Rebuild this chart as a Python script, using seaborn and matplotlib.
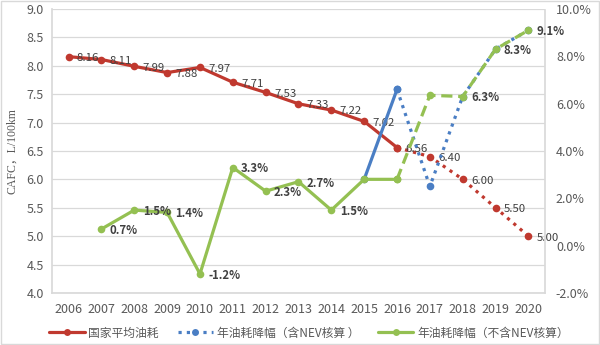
import matplotlib
matplotlib.use("Agg")
import matplotlib.pyplot as plt
import seaborn as sns
import pandas as pd
import numpy as np
from matplotlib.lines import Line2D
from matplotlib.patches import Rectangle
from matplotlib.ticker import FormatStrFormatter, FixedLocator

years = [2006, 2007, 2008, 2009, 2010, 2011, 2012, 2013, 2014, 2015, 2016, 2017, 2018, 2019, 2020]
cafc = [8.16, 8.11, 7.99, 7.88, 7.97, 7.71, 7.53, 7.33, 7.22, 7.02, 6.56, 6.40, 6.00, 5.50, 5.00]
cafc_labels = ["8.16", "8.11", "7.99", "7.88", "7.97", "7.71", "7.53", "7.33", "7.22", "7.02",
               "6.56", "6.40", "6.00", "5.50", "5.00"]
drop_no_nev = [np.nan, 0.7, 1.5, 1.4, -1.2, 3.3, 2.3, 2.7, 1.5, 2.8, 2.8, 6.35, 6.3, 8.3, 9.1]
drop_no_nev_labels = ["", "0.7%", "1.5%", "1.4%", "-1.2%", "3.3%", "2.3%", "2.7%", "1.5%", "", "", "",
                      "6.3%", "8.3%", "9.1%"]
drop_nev = [np.nan] * 9 + [2.8, 6.6, 2.5, 6.3, 8.3, 9.1]

series_names = ["国家平均油耗", "年油耗降幅（含NEV核算 ）", "年油耗降幅（不含NEV核算）"]
ylabel = "CAFC，L/100km"

RED = "#C0392F"
BLUE = "#4A7EC4"
GREEN = "#94C052"
TXT = "#595959"
LBL = "#404040"
GRID = "#D9D9D9"

sns.set_theme(style="white")
plt.rcParams["font.family"] = ["Noto Sans CJK SC", "DejaVu Sans"]

df = pd.DataFrame({"x": np.arange(len(years)), "year": years, "cafc": cafc,
                   "g": drop_no_nev, "b": drop_nev})

fig = plt.figure(figsize=(6.0, 3.45), dpi=100)
ax = fig.add_axes([0.087, 0.151, 0.821, 0.823])
ax2 = ax.twinx()

lw = 2.3
ms = 5.5
# red: solid to 2016, dotted afterwards
solid = df[df.year <= 2016]
future = df[df.year >= 2016]
sns.lineplot(data=solid, x="x", y="cafc", ax=ax, color=RED, lw=lw, marker="o", ms=ms,
             markeredgewidth=0, legend=False)
sns.lineplot(data=future, x="x", y="cafc", ax=ax, color=RED, lw=lw, ls=(0, (1, 1.6)),
             marker="o", ms=ms, markeredgewidth=0, legend=False)

# blue: solid 2015-2016, dotted afterwards
b1 = df[(df.year >= 2015) & (df.year <= 2016)]
b2 = df[df.year >= 2016]
sns.lineplot(data=b1, x="x", y="b", ax=ax2, color=BLUE, lw=lw, marker="o", ms=ms,
             markeredgewidth=0, legend=False)
sns.lineplot(data=b2, x="x", y="b", ax=ax2, color=BLUE, lw=lw, ls=(0, (1, 1.6)),
             marker="o", ms=ms, markeredgewidth=0, legend=False)

# green: solid to 2016, dashed afterwards
g1 = df[(df.year >= 2007) & (df.year <= 2016)]
g2 = df[df.year >= 2016]
sns.lineplot(data=g1, x="x", y="g", ax=ax2, color=GREEN, lw=lw, marker="o", ms=ms,
             markeredgewidth=0, legend=False)
sns.lineplot(data=g2, x="x", y="g", ax=ax2, color=GREEN, lw=lw, ls=(0, (3.5, 1.8)),
             marker="o", ms=ms, markeredgewidth=0, legend=False)

# data labels
for i, (v, t) in enumerate(zip(cafc, cafc_labels)):
    ax.annotate(t, (i, v), xytext=(6, -1), textcoords="offset points", ha="left",
                va="center", fontsize=8.2, color=LBL)
for i, (v, t) in enumerate(zip(drop_no_nev, drop_no_nev_labels)):
    if t:
        ax2.annotate(t, (i, v), xytext=(6, -1), textcoords="offset points", ha="left",
                     va="center", fontsize=8.2, color=LBL, fontweight="bold")

ax.set_xlim(-0.5, len(years) - 0.5)
ax.set_ylim(4.0, 9.0)
ax2.set_ylim(-2.0, 10.0)
ax.set_yticks(np.arange(4.0, 9.01, 0.5))
ax.yaxis.set_major_formatter(FormatStrFormatter("%.1f"))
ax2.set_yticks(np.arange(-2.0, 10.01, 2.0))
ax2.yaxis.set_major_formatter(FormatStrFormatter("%.1f%%"))
ax.set_xticks(np.arange(len(years)))
ax.set_xticklabels([str(y) for y in years])
ax.xaxis.set_minor_locator(FixedLocator(np.arange(-0.5, len(years), 1.0)))

ax.grid(axis="y", color=GRID, lw=0.9)
ax.set_axisbelow(True)
ax2.grid(False)
ax.set_xlabel("")
ax.set_ylabel(ylabel, color=TXT, fontsize=8.5, family=["Liberation Serif", "Noto Sans CJK SC"],
              labelpad=6)
ax2.set_ylabel("")

ax.tick_params(axis="x", which="major", length=0, pad=7, labelsize=9, labelcolor=TXT)
ax.tick_params(axis="x", which="minor", length=4, color=GRID, width=0.9, direction="out")
ax.tick_params(axis="y", length=0, pad=6, labelsize=9, labelcolor=TXT)
ax2.tick_params(axis="y", length=0, pad=8, labelsize=9, labelcolor=TXT)

for a in (ax, ax2):
    for s in ["top", "right", "left", "bottom"]:
        a.spines[s].set_visible(False)
ax.spines["left"].set_visible(True)
ax.spines["left"].set_color(GRID)
ax.spines["bottom"].set_visible(True)
ax.spines["bottom"].set_color(GRID)
ax2.spines["right"].set_visible(True)
ax2.spines["right"].set_color(GRID)
ax2.spines["right"].set_linestyle((0, (1, 1)))

handles = [
    Line2D([0], [0], color=RED, lw=2.3, marker="o", ms=5, markeredgewidth=0),
    Line2D([0], [0], color=BLUE, lw=2.3, ls=(0, (1, 1.6)), marker="o", ms=5, markeredgewidth=0),
    Line2D([0], [0], color=GREEN, lw=2.3, marker="o", ms=5, markeredgewidth=0),
]
fig.legend(handles, series_names, loc="lower center", bbox_to_anchor=(0.515, -0.015), ncol=3,
           frameon=False, fontsize=8.5, labelcolor=TXT, handlelength=3.0, columnspacing=1.6,
           handletextpad=0.3)

fig.patches.append(Rectangle((0.001, 0.002), 0.997, 0.995, transform=fig.transFigure,
                             fill=False, edgecolor=GRID, lw=1))

fig.savefig("out.png", dpi=100)
